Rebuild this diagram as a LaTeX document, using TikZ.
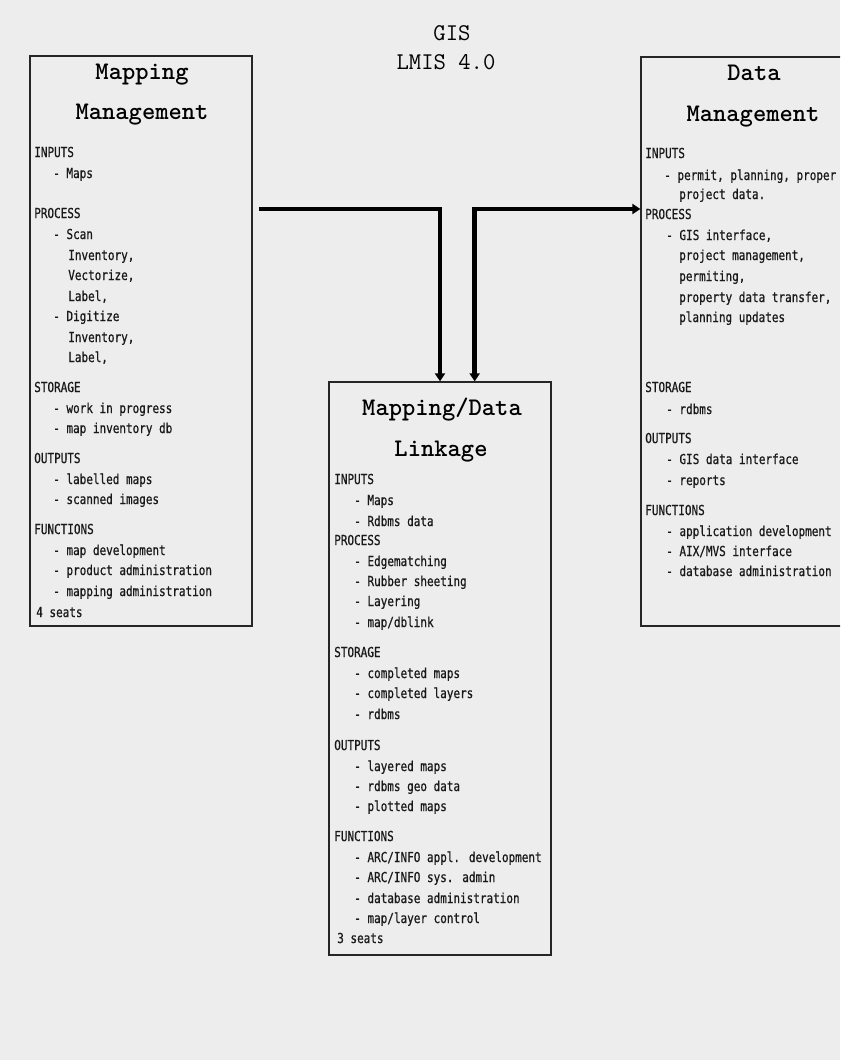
\documentclass[tikz,border=0pt]{standalone}
\usepackage{fontspec}
\newfontfamily\bodyfont[FakeStretch=0.8,FakeBold=0.7]{DejaVu Sans Mono}
\usetikzlibrary{arrows.meta,fit}
\definecolor{paper}{gray}{0.93}
\newcommand\tl[4]{\node[txt] (#1) at (#2,#3+5) {#4};}
\begin{document}
\begin{tikzpicture}[x=0.75pt,y=-0.75pt,
  box/.style={draw=black!85, line width=1pt, inner sep=0pt},
  txt/.style={font=\bodyfont\fontsize{10.3}{12}\selectfont, inner sep=0pt, anchor=base west, text=black!90},
  head/.style={font=\ttfamily\bfseries\fontsize{19}{22}\selectfont, inner sep=0pt, anchor=base},
  ttl/.style={font=\ttfamily\fontsize{18}{22}\selectfont, inner sep=0pt, anchor=base},
  conn/.style={line width=3.3pt, -{Triangle[length=6pt,width=7.5pt]}},
  conn2/.style={line width=3.3pt, {Triangle[length=6pt,width=7.5pt]}-{Triangle[length=6pt,width=7.5pt]}},
]
\useasboundingbox (0,0) rectangle (840,1060);
\fill[paper] (0,0) rectangle (840,1060);

% title
\node[ttl] (t1) at (452,40) {GIS};
\node[ttl] (t2) at (446,69) {LMIS 4.0};

% Mapping Management
\node[box, fit={(30,56) (252,626)}] (mm) {};
\node[head] (mh1) at (142,79) {Mapping};
\node[head] (mh2) at (142,119) {Management};
\tl{ma1}{34}{152}{INPUTS}
\tl{ma2}{53}{173}{- Maps}
\tl{ma3}{34}{213}{PROCESS}
\tl{ma4}{53}{234}{- Scan}
\tl{ma5}{68}{255}{Inventory,}
\tl{ma6}{68}{275}{Vectorize,}
\tl{ma7}{68}{296}{Label,}
\tl{ma8}{53}{316}{- Digitize}
\tl{ma9}{68}{337}{Inventory,}
\tl{ma10}{68}{357}{Label,}
\tl{ma11}{34}{387}{STORAGE}
\tl{ma12}{53}{408}{- work in progress}
\tl{ma13}{53}{428}{- map inventory db}
\tl{ma14}{34}{458}{OUTPUTS}
\tl{ma15}{53}{479}{- labelled maps}
\tl{ma16}{53}{499}{- scanned images}
\tl{ma17}{34}{529}{FUNCTIONS}
\tl{ma18}{53}{550}{- map development}
\tl{ma19}{53}{570}{- product administration}
\tl{ma20}{53}{591}{- mapping administration}
\tl{ma21}{36}{612}{4 seats}

% Data Management (cut by the page edge)
\begin{scope}
\clip (0,0) rectangle (840,1060);
\node[box, fit={(641,57) (900,626)}] (dm) {};
\node[head] (dh1) at (754,80) {Data};
\node[head] (dh2) at (753,121) {Management};
\tl{da1}{645}{153}{INPUTS}
\tl{da2}{664}{175}{- permit, planning, proper}
\tl{da3}{679}{194}{project data.}
\tl{da4}{645}{214}{PROCESS}
\tl{da5}{666}{235}{- GIS interface,}
\tl{da6}{679}{255}{project management,}
\tl{da7}{679}{276}{permiting,}
\tl{da8}{679}{297}{property data transfer,}
\tl{da9}{679}{317}{planning updates}
\tl{da10}{645}{387}{STORAGE}
\tl{da11}{666}{409}{- rdbms}
\tl{da12}{645}{438}{OUTPUTS}
\tl{da13}{666}{459}{- GIS data interface}
\tl{da14}{666}{480}{- reports}
\tl{da15}{645}{510}{FUNCTIONS}
\tl{da16}{666}{531}{- application development}
\tl{da17}{666}{551}{- AIX/MVS interface}
\tl{da18}{666}{571}{- database administration}
\end{scope}

% Mapping/Data Linkage
\node[box, fit={(329,382) (551,955)}] (lk) {};
\node[head] (lh1) at (442,415) {Mapping/Data};
\node[head] (lh2) at (441,456) {Linkage};
\tl{la1}{334}{479}{INPUTS}
\tl{la2}{354}{500}{- Maps}
\tl{la3}{354}{521}{- Rdbms data}
\tl{la4}{334}{540}{PROCESS}
\tl{la5}{354}{561}{- Edgematching}
\tl{la6}{354}{581}{- Rubber sheeting}
\tl{la7}{354}{601}{- Layering}
\tl{la8}{354}{622}{- map/dblink}
\tl{la9}{334}{652}{STORAGE}
\tl{la10}{354}{673}{- completed maps}
\tl{la11}{354}{693}{- completed layers}
\tl{la12}{354}{714}{- rdbms}
\tl{la13}{334}{745}{OUTPUTS}
\tl{la14}{354}{766}{- layered maps}
\tl{la15}{354}{786}{- rdbms geo data}
\tl{la16}{354}{806}{- plotted maps}
\tl{la17}{334}{836}{FUNCTIONS}
\tl{la18}{354}{857}{- ARC/INFO appl. development}
\tl{la19}{354}{877}{- ARC/INFO sys. admin}
\tl{la20}{354}{898}{- database administration}
\tl{la21}{354}{918}{- map/layer control}
\tl{la22}{337}{938}{3 seats}

% connectors
\coordinate (hy) at (0,209);
\draw[conn] ([xshift=5]mm.east |- hy) -| ([xshift=0]lk.north);
\draw[conn2] ([xshift=26]lk.north) |- (dm.west |- hy);
\end{tikzpicture}
\end{document}
